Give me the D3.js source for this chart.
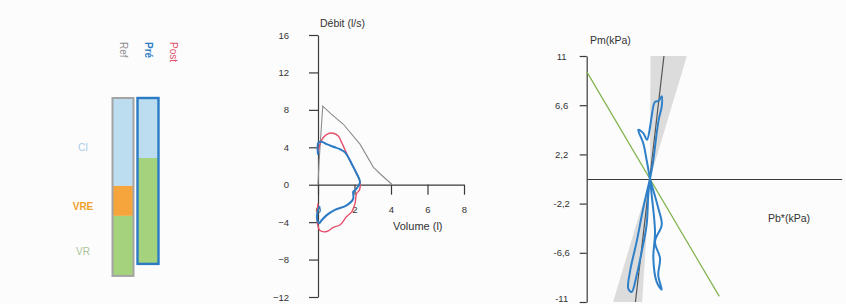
<!DOCTYPE html>
<html>
<head>
<meta charset="utf-8">
<script src="https://cdn.jsdelivr.net/npm/d3@7"></script>
<style>
  body { margin: 0; background: #fcfcfc; }
  svg { display: block; font-family: 'Liberation Sans', Arial, sans-serif; }
  .axis path, .axis line { stroke: #3a3a3a; stroke-width: 1.2; }
  .axis text { fill: #333; font-size: 9.5px; }
</style>
</head>
<body>
<div id='chart'></div>

<script>
  // --- volumes (l) ---
  var columns = ['Ref', 'Pré', 'Post']
  var columnColors = ['#8a8a8a', '#2a7bc4', '#e4506a']
  var segments = ['CI', 'VRE', 'VR']
  var segmentColors = ['#bcdcf0', '#f5a53c', '#a5d27c']
  var labelColors = ['#a8cbe6', '#f0a02c', '#a9c49a']
  var refVolumes = [2.93, 1.0, 2.0]
  var preVolumes = [2.0, 0, 3.53]

  // --- flow / volume loops ---
  var flowTicks = [-12, -8, -4, 0, 4, 8, 12, 16]
  var volumeTicks = [0, 2, 4, 6, 8]
  var refVol  = [0, 0.06, 0.26, 0.7, 1.39, 2.3, 3.03, 3.4, 4.04]
  var refFlow = [0, 2.5, 8.4, 7.6, 6.46, 4.34, 1.88, 1.17, 0.05]
  var postVol  = [0, 0.11, 0.29, 0.56, 0.84, 1.11, 1.3, 1.75, 2.12, 2.3, 2.27, 2.12, 2.03, 1.85, 1.57, 1.2, 0.84, 0.48, 0.11, -0.03, 0]
  var postFlow = [3.5, 4.34, 5.05, 5.47, 5.5, 5.2, 4.5, 2.58, 1.17, 0.29, -0.6, -0.9, -2.0, -2.9, -3.4, -4.3, -4.55, -5.0, -4.9, -4.1, -2.0]
  var preVol  = [0, 0.02, 0.2, 0.48, 0.84, 1.2, 1.48, 1.85, 2.12, 2.3, 2.03, 1.93, 1.93, 1.57, 0.93, 0.48, 0.2, 0.07, -0.05, 0, 0.1]
  var preFlow = [3.2, 4.5, 4.6, 4.34, 4.06, 3.8, 3.46, 2.22, 1.17, 0.29, -0.6, -0.75, -1.5, -2.2, -2.7, -3.25, -3.8, -4.1, -3.7, -2.75, -2.3]

  // --- Pm / Pb* ---
  var pmTicks = [11, 6.6, 2.2, -2.2, -6.6, -11]
  var upperPb = [0, -0.3, -0.6, -1.05, -0.6, -0.27, 0.0, 0.15, 0.45, 0.8, 1.05, 1.05, 0.8, 0.6, 0.3, 0]
  var upperPm = [0, 1.7, 3.2, 4.4, 4.1, 3.5, 4.6, 5.6, 6.9, 7.0, 7.4, 6.5, 5.4, 4.1, 1.7, 0]
  var lowLeftPb = [0, -0.6, -1.19, -1.79, -1.94, -1.64, -1.19, -0.74, -0.3, -0.15, 0]
  var lowLeftPm = [0, -2.6, -5.6, -8.3, -9.8, -10.1, -8.6, -6.5, -4.1, -1.4, 0]
  var lowRightPb = [0, 0.74, 1.05, 0.45, 0.9, 0.74, 1.05, 0.6, 0.3, 0.45, 0.15, 0]
  var lowRightPm = [0, -2.6, -4.1, -5.6, -7.1, -8.6, -9.9, -9.2, -7.1, -4.7, -1.4, 0]
  var bandPb = [0.05, 3.3, 0, -3.3, -0.7, 0]
  var bandPm = [11, 11, 0, -11, -11, 0]
  var fitPb = [-1.3, 1.25]
  var fitPm = [-11, 11]
  var greenPb = [-5.66, 6.2]
  var greenPm = [9.6, -10.5]

  function zip(xs, ys) {
    return xs.map(function(x, i) { return [x, ys[i]] })
  }

  var svg = d3.select('#chart')
              .append('svg')
              .attr('width', 846)
              .attr('height', 304)

  // ============ left: volume bars ============
  var colX = d3.scalePoint().domain(columns).range([123, 173])
  var volY = d3.scaleLinear().domain([0, 6]).range([98, 278])
  var barW = 21

  svg.selectAll('text.col')
     .data(columns)
     .enter()
     .append('text')
     .attr('transform', function(d) { return 'translate(' + (colX(d) - 3) + ',' + 42 + ') rotate(90)' })
     .attr('font-size', 10)
     .attr('font-weight', function(d, i) { return i == 1 ? 'bold' : 'normal' })
     .attr('fill', function(d, i) { return columnColors[i] })
     .text(function(d) { return d })

  function stack(vals) {
    var acc = 0
    return vals.map(function(v, i) {
      var s = { seg: i, y0: acc, y1: acc + v }
      acc += v
      return s
    })
  }

  function drawBar(name, vals, stroke, sw) {
    var g = svg.append('g')
    var x0 = colX(name) - barW / 2
    var st = stack(vals)
    g.selectAll('rect')
     .data(st.filter(function(d) { return d.y1 > d.y0 }))
     .enter()
     .append('rect')
     .attr('x', x0)
     .attr('width', barW)
     .attr('y', function(d) { return volY(d.y0) })
     .attr('height', function(d) { return volY(d.y1) - volY(d.y0) })
     .attr('fill', function(d) { return segmentColors[d.seg] })
    g.append('rect')
     .attr('x', x0)
     .attr('width', barW)
     .attr('y', volY(0))
     .attr('height', volY(d3.sum(vals)) - volY(0))
     .attr('fill', 'none')
     .attr('stroke', stroke)
     .attr('stroke-width', sw)
    return st
  }

  var refStack = drawBar('Ref', refVolumes, '#a3a3a3', 2)
  drawBar('Pré', preVolumes, '#2a7bc4', 2.4)

  svg.selectAll('text.seg')
     .data(refStack)
     .enter()
     .append('text')
     .attr('x', 83)
     .attr('y', function(d) { return volY((d.y0 + d.y1) / 2) + 9 })
     .attr('text-anchor', 'middle')
     .attr('font-size', 10)
     .attr('font-weight', function(d) { return d.seg == 1 ? 'bold' : 'normal' })
     .attr('fill', function(d) { return labelColors[d.seg] })
     .text(function(d) { return segments[d.seg] })

  // ============ middle: flow / volume ============
  var vx = d3.scaleLinear().domain([0, 8]).range([318, 464])
  var fy = d3.scaleLinear().domain([-12, 16]).range([297, 35])

  svg.append('g')
     .attr('class', 'axis')
     .attr('transform', 'translate(318,0)')
     .call(d3.axisLeft(fy).tickValues(flowTicks).tickSize(9).tickSizeOuter(0).tickPadding(20))

  svg.append('g')
     .attr('class', 'axis')
     .attr('transform', 'translate(0,' + fy(0) + ')')
     .call(d3.axisBottom(vx).tickValues(volumeTicks).tickSize(10).tickSizeOuter(0).tickPadding(12))

  svg.append('text').attr('x', 320).attr('y', 27).attr('font-size', 10.5).attr('fill', '#333').text('Débit (l/s)')
  svg.append('text').attr('x', 393).attr('y', 230).attr('font-size', 11).attr('fill', '#333').text('Volume (l)')

  var flowLine = d3.line()
                   .x(function(d) { return vx(d[0]) })
                   .y(function(d) { return fy(d[1]) })

  svg.append('path')
     .attr('d', flowLine(zip(refVol, refFlow)))
     .attr('fill', 'none')
     .attr('stroke', '#8c8c8c')
     .attr('stroke-width', 1.1)

  svg.append('path')
     .attr('d', flowLine.curve(d3.curveCatmullRom)(zip(postVol, postFlow)))
     .attr('fill', 'none')
     .attr('stroke', '#e4506a')
     .attr('stroke-width', 1.4)

  svg.append('path')
     .attr('d', flowLine.curve(d3.curveCatmullRom)(zip(preVol, preFlow)))
     .attr('fill', 'none')
     .attr('stroke', '#2a7bc4')
     .attr('stroke-width', 2)

  // ============ right: Pm vs Pb* ============
  var px = d3.scaleLinear().domain([-5.66, 17.15]).range([586.7, 841.7])
  var py = d3.scaleLinear().domain([-11, 11]).range([302, 56])

  var pLine = d3.line()
                .x(function(d) { return px(d[0]) })
                .y(function(d) { return py(d[1]) })

  svg.append('path')
     .attr('d', pLine(zip(bandPb, bandPm)) + 'Z')
     .attr('fill', '#d6d6d6')
     .attr('opacity', 0.85)

  svg.append('g')
     .attr('class', 'axis')
     .attr('transform', 'translate(0,' + py(0) + ')')
     .call(d3.axisBottom(px).tickValues([]).tickSizeOuter(0))
     .select('path')
     .attr('stroke', '#555')
     .attr('stroke-width', 1.6)

  var yAx = svg.append('g')
               .attr('class', 'axis')
               .attr('transform', 'translate(' + px(-5.66) + ',0)')
               .call(d3.axisLeft(py).tickValues(pmTicks).tickSize(7).tickSizeOuter(0)
                       .tickFormat(function(d) { return String(d).replace('.', ',') }))
  yAx.selectAll('text')
     .attr('text-anchor', 'middle')
     .attr('x', -25)
     .attr('dy', function(d) { return d == -11 ? '-0.05em' : '0.32em' })

  svg.append('path')
     .attr('d', pLine(zip(greenPb, greenPm)))
     .attr('stroke', '#7fb24a')
     .attr('stroke-width', 1.2)
     .attr('fill', 'none')

  svg.append('path')
     .attr('d', pLine(zip(fitPb, fitPm)))
     .attr('stroke', '#555')
     .attr('stroke-width', 1.2)
     .attr('fill', 'none')

  var loops = [zip(upperPb, upperPm), zip(lowLeftPb, lowLeftPm), zip(lowRightPb, lowRightPm)]
  svg.selectAll('path.loop')
     .data(loops)
     .enter()
     .append('path')
     .attr('d', pLine.curve(d3.curveCatmullRom))
     .attr('fill', 'none')
     .attr('stroke', '#2f80c8')
     .attr('stroke-width', 2)

  svg.append('text').attr('x', 590).attr('y', 44).attr('font-size', 10.5).attr('fill', '#333').text('Pm(kPa)')
  svg.append('text').attr('x', 768).attr('y', 222).attr('font-size', 10.5).attr('fill', '#333').text('Pb*(kPa)')
</script>
</body>
</html>
